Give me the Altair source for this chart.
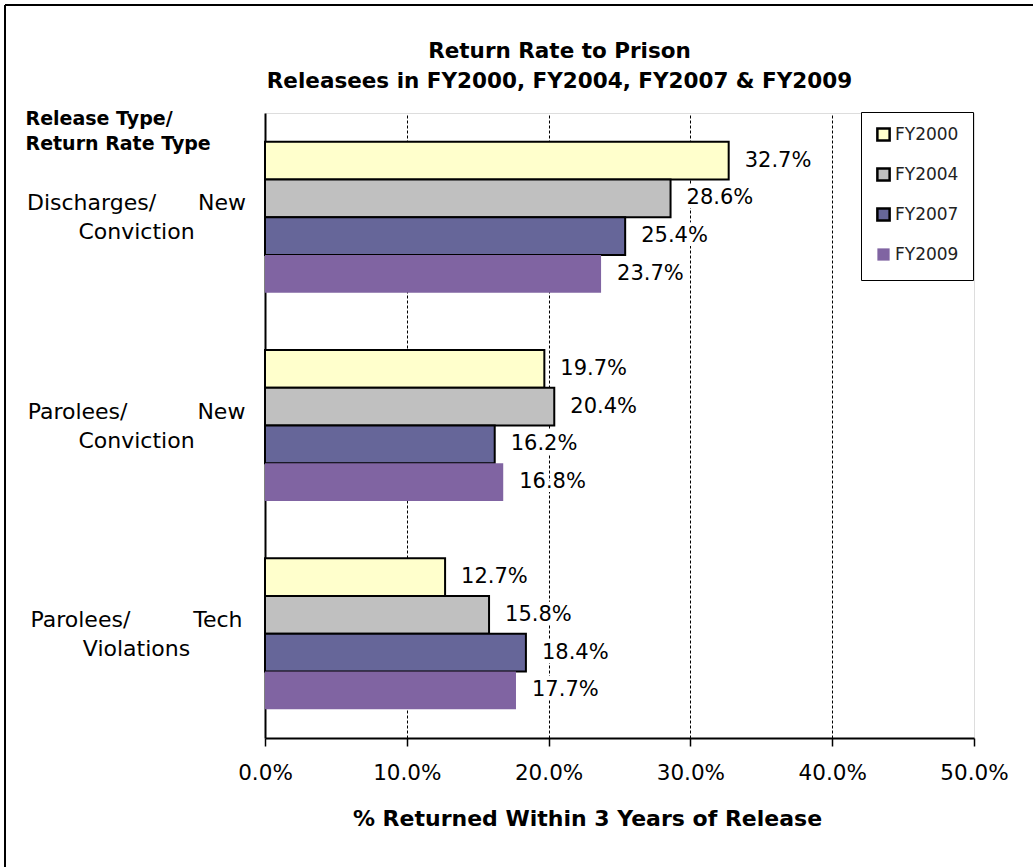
import altair as alt
import pandas as pd

NB = "\u00a0"
categories = [
    "Discharges/" + NB * 6 + "New|Conviction",
    "Parolees/" + NB * 10 + "New|Conviction",
    "Parolees/" + NB * 9 + "Tech|Violations",
]
years = ["FY2000", "FY2004", "FY2007", "FY2009"]
values = {
    "FY2000": [32.7, 19.7, 12.7],
    "FY2004": [28.6, 20.4, 15.8],
    "FY2007": [25.4, 16.2, 18.4],
    "FY2009": [23.7, 16.8, 17.7],
}
fills = ["#FFFFCC", "#C0C0C0", "#666699", "#8064A2"]
strokes = ["#000000", "#000000", "#000000", "transparent"]
x_ticks = [0, 10, 20, 30, 40, 50]

rows = []
for y in years:
    for c, v in zip(categories, values[y]):
        rows.append({"Category": c, "Year": y, "Rate": v})
df = pd.DataFrame(rows)

FONT = "DejaVu Sans"

y_enc = alt.Y(
    "Category:N",
    sort=categories,
    scale=alt.Scale(paddingInner=0.275, paddingOuter=0.1375),
    axis=alt.Axis(
        title=["Release Type/", "Return Rate Type"],
        titleAngle=0,
        titleAlign="left",
        titleBaseline="alphabetic",
        titleX=-240,
        titleY=11,
        titleFont=FONT,
        titleFontSize=19,
        titleFontWeight="bold",
        titleColor="black",
        titleLineHeight=25,
        labelExpr="split(datum.label, '|')",
        labelAlign="center",
        labelBaseline="middle",
        labelPadding=129,
        labelOffset=-14,
        labelLimit=400,
        labelFont=FONT,
        labelFontSize=22,
        labelColor="black",
        labelLineHeight=29,
        ticks=False,
        domainColor="black",
        domainWidth=2,
        grid=False,
    ),
)
yoff = alt.YOffset("Year:N", sort=years, scale=alt.Scale(paddingInner=0, paddingOuter=0))

x_enc = alt.X(
    "Rate:Q",
    scale=alt.Scale(domain=[0, 50], nice=False),
    axis=alt.Axis(
        values=x_ticks,
        labelExpr="format(datum.value, '.1f') + '%'",
        labelFlush=False,
        title="% Returned Within 3 Years of Release",
        titleFont=FONT,
        titleFontSize=22,
        titleFontWeight="bold",
        titleColor="black",
        titleX=322,
        titleY=87,
        titleAlign="center",
        titleBaseline="alphabetic",
        labelFont=FONT,
        labelFontSize=21.5,
        labelColor="black",
        labelPadding=16,
        tickSize=8,
        tickColor="black",
        tickWidth=1.5,
        domainColor="black",
        domainWidth=2,
        grid=True,
        gridColor="black",
        gridDash=[3, 2],
        gridWidth=1,
        gridOpacity={"condition": {"test": "datum.value === 0 || datum.value === 50", "value": 0}, "value": 1},
    ),
)

bars = alt.Chart(df).mark_bar(strokeWidth=2).encode(
    x=x_enc,
    y=y_enc,
    yOffset=yoff,
    fill=alt.Fill(
        "Year:N",
        sort=years,
        scale=alt.Scale(domain=years, range=fills),
        legend=alt.Legend(
            title=None,
            orient="none",
            legendX=596,
            legendY=-1,
            direction="vertical",
            labelFont=FONT,
            labelFontSize=17,
            labelColor="#222222",
            symbolType="square",
            symbolSize=150,
            symbolStrokeWidth=2.5,
            rowPadding=17,
            padding=14,
            strokeColor="black",
            fillColor="white",
            labelOffset=3,
        ),
    ),
    stroke=alt.Stroke(
        "Year:N",
        sort=years,
        scale=alt.Scale(domain=years, range=strokes),
        legend=None,
    ),
)

text_base = alt.Chart(df).transform_calculate(
    label="format(datum.Rate, '.1f') + '%'"
).encode(
    x=alt.X("Rate:Q"),
    y=alt.Y("Category:N", sort=categories),
    yOffset=yoff,
    text="label:N",
)
halo = text_base.mark_text(
    align="left", baseline="middle", dx=16, font=FONT, fontSize=21,
    stroke="white", strokeWidth=8, color="white",
)
labels = text_base.mark_text(
    align="left", baseline="middle", dx=16, font=FONT, fontSize=21, color="black",
)

frame_left = alt.Chart(df).mark_rule(color="black", strokeWidth=2).encode(
    x=alt.value(-260), y=alt.value(-108), y2=alt.value(760)
)
frame_top = alt.Chart(df).mark_rule(color="black", strokeWidth=2).encode(
    x=alt.value(-260), x2=alt.value(780), y=alt.value(-108)
)

chart = alt.layer(bars, halo, labels, frame_left, frame_top).properties(
    width=709,
    height=625,
    autosize=alt.AutoSizeParams(type="none"),
    padding={"left": 265, "top": 113, "right": 59, "bottom": 129},
    title=alt.TitleParams(
        text=["Return Rate to Prison", "Releasees in FY2000, FY2004, FY2007 & FY2009"],
        font=FONT,
        fontSize=21.5,
        fontWeight="bold",
        color="black",
        anchor="middle",
        dx=-60,
        lineHeight=30,
        offset=-88,
    ),
).configure_view(
    stroke="#808080", strokeWidth=2
).configure(background="white")

chart.save("out.html", embed_options={"renderer": "svg", "actions": False})
